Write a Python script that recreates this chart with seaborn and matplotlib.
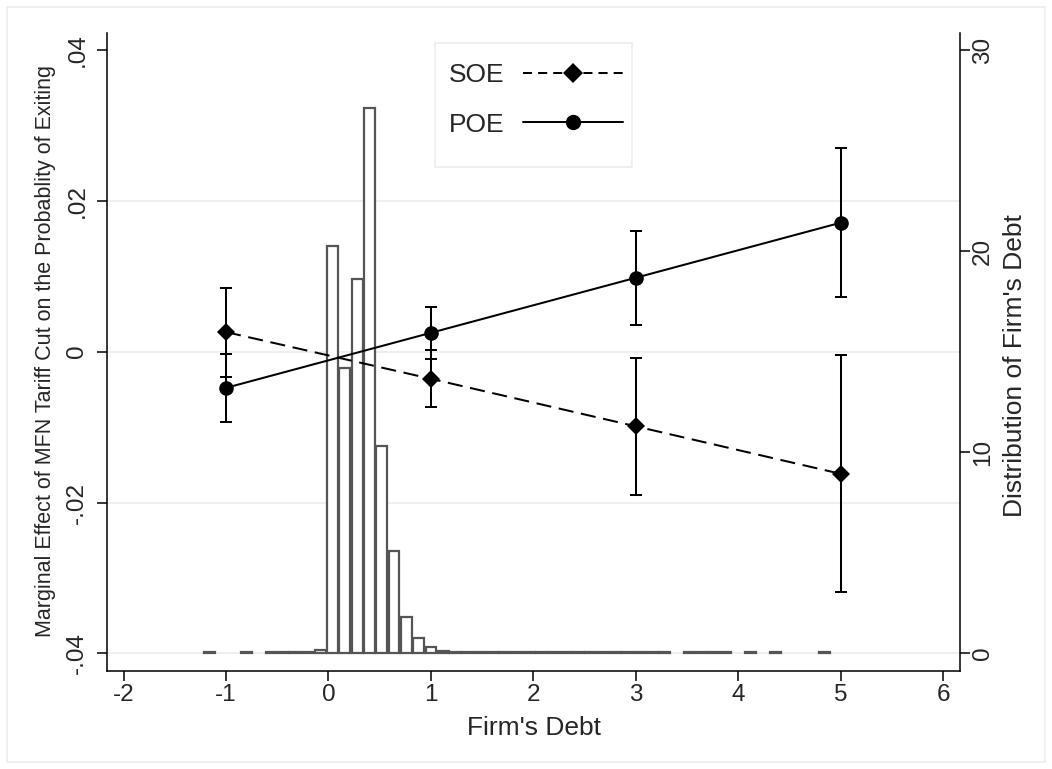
import matplotlib
matplotlib.use('Agg')
import matplotlib.pyplot as plt
from matplotlib.lines import Line2D
from matplotlib.patches import Rectangle
import seaborn as sns

# Marginal effects by firm's debt (left axis)
debt_x = [-1, 1, 3, 5]
soe_est = [0.0026, -0.0036, -0.0099, -0.0162]
soe_lo = [-0.0033, -0.0073, -0.0190, -0.0319]
soe_hi = [0.0085, 0.0002, -0.0008, -0.0005]
poe_est = [-0.0048, 0.0025, 0.0098, 0.0171]
poe_lo = [-0.0093, -0.0010, 0.0036, 0.0072]
poe_hi = [-0.0003, 0.0059, 0.0160, 0.0270]

# Distribution of firm's debt (right axis, percent), bin centres
hist_centers = [-1.16, -0.80, -0.56, -0.44, -0.32, -0.20, -0.08,
                0.04, 0.16, 0.28, 0.40, 0.52, 0.64, 0.76, 0.88, 1.00,
                1.12, 1.24, 1.36,
                1.48, 1.60, 1.72, 1.84, 1.96, 2.08, 2.20, 2.32,
                2.44, 2.56, 2.68, 2.80, 2.92, 3.04, 3.16, 3.28,
                3.52, 3.64, 3.76, 3.88, 4.12, 4.36, 4.84]
hist_pct = [0.05, 0.05, 0.05, 0.05, 0.05, 0.05, 0.14,
            20.25, 14.2, 18.6, 27.1, 10.3, 5.1, 1.8, 0.76, 0.32,
            0.12, 0.08, 0.06,
            0.05, 0.05, 0.05, 0.05, 0.05, 0.05, 0.05, 0.05,
            0.05, 0.05, 0.05, 0.05, 0.05, 0.05, 0.05, 0.05,
            0.05, 0.05, 0.05, 0.05, 0.05, 0.05, 0.05]

x_ticks = [-2, -1, 0, 1, 2, 3, 4, 5, 6]
left_ticks = [-0.04, -0.02, 0, 0.02, 0.04]
left_labels = ['-.04', '-.02', '0', '.02', '.04']
right_ticks = [0, 10, 20, 30]

sns.set_style('white')
plt.rcParams['font.family'] = ['Liberation Sans', 'DejaVu Sans']

fig = plt.figure(figsize=(10.52, 7.69), dpi=100)
W, H = 1052, 769
ax = fig.add_axes([106.7 / W, 1 - 670.7 / H, (960 - 106.7) / W, (670.7 - 33) / H])
ax2 = ax.twinx()
ax.set_zorder(2)
ax2.set_zorder(1)
ax.patch.set_visible(False)

grid_col = '#e6eef1'
# grid lines (behind the histogram)
for g in [-0.04, -0.02, 0, 0.02]:
    ax2.plot([0, 1], [g, g], transform=ax.get_yaxis_transform(), color=grid_col, lw=1.2, zorder=0)

# histogram
ax2.bar(hist_centers, hist_pct, width=0.105, facecolor='white', edgecolor='#555555', linewidth=1.6, zorder=1)

# effects
sns.lineplot(x=debt_x, y=soe_est, ax=ax, color='black', lw=1.45, marker='D', markersize=9,
             markeredgewidth=0, estimator=None, sort=False)
ax.lines[-1].set_dashes((7.5, 3.8))
sns.lineplot(x=debt_x, y=poe_est, ax=ax, color='black', lw=1.45, marker='o', markersize=10.5,
             markeredgewidth=0, estimator=None, sort=False)

soe_err = [[e - l for e, l in zip(soe_est, soe_lo)], [h - e for e, h in zip(soe_est, soe_hi)]]
poe_err = [[e - l for e, l in zip(poe_est, poe_lo)], [h - e for e, h in zip(poe_est, poe_hi)]]
ax.errorbar(debt_x, soe_est, yerr=soe_err, fmt='none', ecolor='black', elinewidth=1.45, capsize=4.3, capthick=1.45)
ax.errorbar(debt_x, poe_est, yerr=poe_err, fmt='none', ecolor='black', elinewidth=1.45, capsize=4.3, capthick=1.45)

# axes limits and ticks
ax.set_xlim(-2.1645, 6.164)
ax.set_ylim(-0.0423, 0.04225)
ax2.set_ylim(-0.865, 30.845)
ax.set_xticks(x_ticks)
ax.set_xticklabels([str(t) for t in x_ticks])
ax.set_yticks(left_ticks)
ax.set_yticklabels(left_labels)
ax2.set_yticks(right_ticks)
ax2.set_yticklabels([str(t) for t in right_ticks])

tick_fs = 17.5
ax.tick_params(axis='x', direction='out', length=7.2, width=1.1, color='black', labelsize=tick_fs, pad=2.5, bottom=True)
ax.tick_params(axis='y', direction='out', length=7.2, width=1.1, color='black', labelsize=tick_fs, pad=6, left=True)
ax2.tick_params(axis='y', direction='out', length=7.2, width=1.1, color='black', labelsize=tick_fs, pad=1.5, right=True)
plt.setp(ax.get_yticklabels(), rotation=90, va='center')
plt.setp(ax2.get_yticklabels(), rotation=90, va='center')

for s in ['top', 'right']:
    ax.spines[s].set_visible(False)
for s in ['top', 'left', 'bottom']:
    ax2.spines[s].set_visible(False)
for sp in [ax.spines['left'], ax.spines['bottom'], ax2.spines['right']]:
    sp.set_color('black')
    sp.set_linewidth(1.1)

# titles
fig.text(533.7 / W, 1 - 735 / H, "Firm's Debt", fontsize=19, ha='center', va='baseline')
fig.text(46 / W, 1 - 351 / H, 'Marginal Effect of MFN Tariff Cut on the Probablity of Exiting',
         fontsize=15.5, rotation=90, ha='center', va='center')
fig.text(1015 / W, 1 - 366 / H, "Distribution of Firm's Debt", fontsize=19, rotation=90,
         ha='center', va='center')

# legend
handles = [Line2D([], [], color='black', lw=1.45, dashes=(4.5, 3), marker='D', markersize=10, markeredgewidth=0),
           Line2D([], [], color='black', lw=1.45, marker='o', markersize=11, markeredgewidth=0)]
leg = fig.legend(handles, ['SOE', 'POE'], loc='upper left', bbox_to_anchor=(430 / W, 1 - 45 / H),
                 frameon=False, fontsize=19, numpoints=1, handlelength=3.8, handletextpad=0.7,
                 labelspacing=0.95, borderpad=0.2, markerfirst=False)
fig.add_artist(Rectangle((435 / W, 1 - 167 / H), (632 - 435) / W, (167 - 43) / H, transform=fig.transFigure,
                         fill=False, edgecolor=grid_col, lw=1.2))

# outer graph border
fig.add_artist(Rectangle((7 / W, 7 / H), 1 - 14 / W, 1 - 14 / H, transform=fig.transFigure,
                         fill=False, edgecolor=grid_col, lw=1.2))

fig.savefig('out.png', dpi=100)
